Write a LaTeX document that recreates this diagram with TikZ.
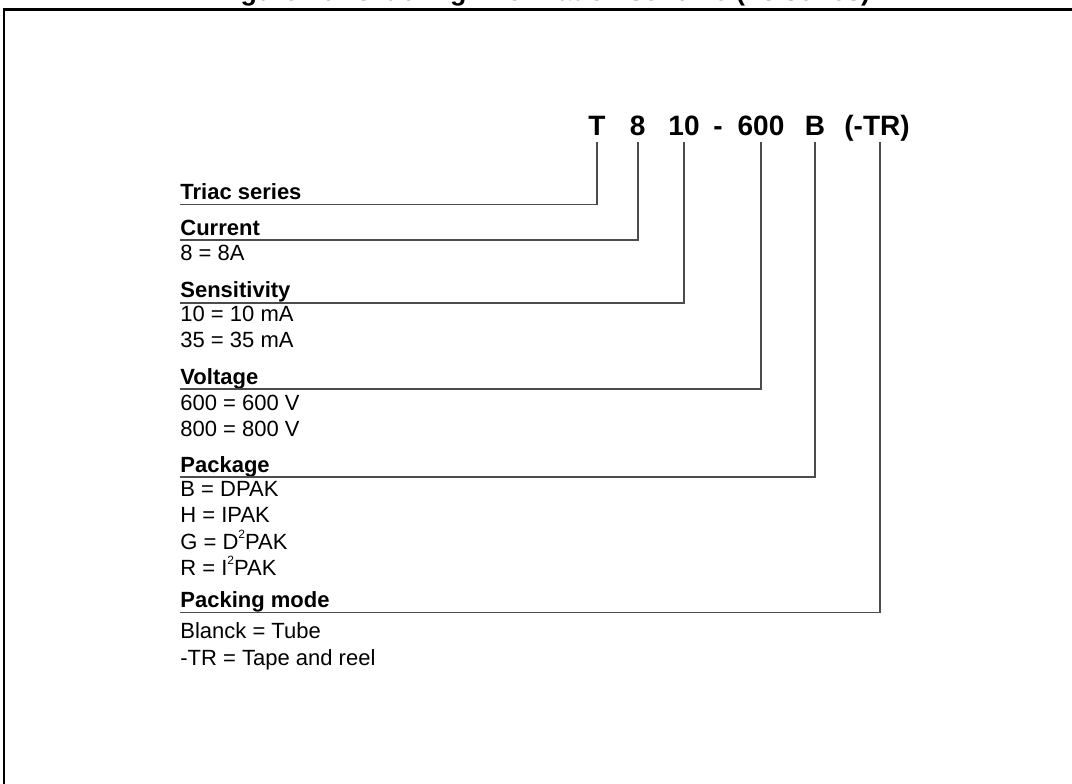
\documentclass[tikz,border=0pt]{standalone}
\usepackage{fontspec}
\setmainfont{Liberation Sans}
\usetikzlibrary{positioning}

\newcommand{\sqr}{\raisebox{0.5em}{\fontsize{6}{6}\selectfont 2}}

\begin{document}
\begin{tikzpicture}[
    x=0.5pt, y=-0.5pt,
    font=\fontsize{11}{13}\selectfont,
    code/.style={anchor=base, font=\fontsize{14}{16}\selectfont\bfseries},
    field/.style={anchor=south west, inner sep=0pt, text depth=2.25pt, font=\fontsize{11}{13}\selectfont\bfseries},
    value/.style={anchor=base west, inner sep=0pt},
    lead/.style={draw=black!70, line width=0.8pt}
]
    \useasboundingbox (0,0) rectangle (1072,783);
    \clip (0,0) rectangle (1072,783);

    % Title and frame
    \node[anchor=base, font=\fontsize{13.4}{15}\selectfont\bfseries] (title) at (543.5,0.5) {Figure 20. Ordering information scheme (T8 series)};
    \draw[line width=1.25pt] (4,800) |- (1090,9.5);

    % Part number
    \node[code] (cT) at (597,135) {T};
    \node[code] (c8) at (637.7,135) {8};
    \node[code] (c10) at (684,135) {10};
    \node[code] (cdash) at (718,135) {-};
    \node[code] (c600) at (761,135) {600};
    \node[code] (cB) at (815,135) {B};
    \node[code] (cTR) at (877,135) {(-TR)};

    % Fields
    \node[field] (triac) at (180,204.3) {Triac series};
    \node[field] (current) at (180,240) {Current};
    \node[value] (cur8) at (180,260.7) {8 = 8A};
    \node[field] (sens) at (180,302.7) {Sensitivity};
    \node[value] (sens10) at (180,321.7) {10 = 10 mA};
    \node[value] (sens35) at (180,347) {35 = 35 mA};
    \node[field] (volt) at (180,389) {Voltage};
    \node[value] (volt600) at (180,410) {600 = 600 V};
    \node[value] (volt800) at (180,436) {800 = 800 V};
    \node[field] (pack) at (180,477) {Package};
    \node[value] (packB) at (180,496.7) {B = DPAK};
    \node[value] (packH) at (180,522.3) {H = IPAK};
    \node[value] (packG) at (180,549) {G = D\sqr PAK};
    \node[value] (packR) at (180,575.7) {R = I\sqr PAK};
    \node[field] (packing) at (180,612.5) {Packing mode};
    \node[value] (tube) at (180,638.3) {Blanck = Tube};
    \node[value] (reel) at (180,665) {-TR = Tape and reel};

    % Leaders
    \draw[lead] (cT.base) ++(0,7) |- (triac.south west);
    \draw[lead] (c8.base) ++(0,7) |- (current.south west);
    \draw[lead] (c10.base) ++(0,7) |- (sens.south west);
    \draw[lead] (c600.base) ++(0,7) |- (volt.south west);
    \draw[lead] (cB.base) ++(0,7) |- (pack.south west);
    \draw[lead] (cTR.base) ++(3,7) |- (packing.south west);
\end{tikzpicture}
\end{document}
